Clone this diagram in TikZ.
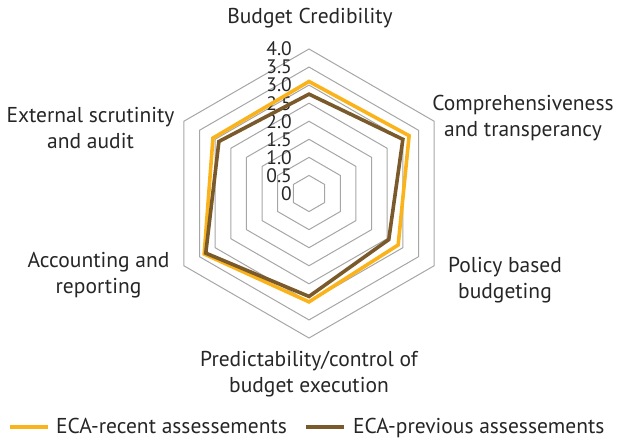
\documentclass[tikz,border=0pt]{standalone}
\usepackage{fontspec}
\setmainfont{PT Sans}
\definecolor{recentgold}{HTML}{FBB31B}
\definecolor{previousbrown}{HTML}{7A5A2A}
\definecolor{gridgray}{HTML}{A6A6A6}
\definecolor{labeltext}{HTML}{262626}

\begin{document}
\begin{tikzpicture}[x=1pt,y=1pt,
  ring/.style={draw=gridgray,line width=1pt},
  recent/.style={draw=recentgold,line width=3.6pt},
  previous/.style={draw=previousbrown,line width=3.6pt},
  axislabel/.style={align=center,text=labeltext,inner sep=0pt,font=\fontsize{21.5}{26}\selectfont},
  ticklabel/.style={anchor=east,text=labeltext,inner sep=0pt,font=\fontsize{19.5}{19.5}\selectfont},
  legendtext/.style={anchor=base west,text=labeltext,inner sep=0pt,font=\fontsize{21.5}{24}\selectfont}]

\useasboundingbox (0,0) rectangle (618,441);

%GRID
\begin{scope}[shift={(309,247.5)},x=36.125pt,y=36.125pt]
\draw[ring] (90:0.5) -- (30:0.5) -- (-30:0.5) -- (-90:0.5) -- (210:0.5) -- (150:0.5) -- cycle;
\draw[ring] (90:1.0) -- (30:1.0) -- (-30:1.0) -- (-90:1.0) -- (210:1.0) -- (150:1.0) -- cycle;
\draw[ring] (90:1.5) -- (30:1.5) -- (-30:1.5) -- (-90:1.5) -- (210:1.5) -- (150:1.5) -- cycle;
\draw[ring] (90:2.0) -- (30:2.0) -- (-30:2.0) -- (-90:2.0) -- (210:2.0) -- (150:2.0) -- cycle;
\draw[ring] (90:2.5) -- (30:2.5) -- (-30:2.5) -- (-90:2.5) -- (210:2.5) -- (150:2.5) -- cycle;
\draw[ring] (90:3.0) -- (30:3.0) -- (-30:3.0) -- (-90:3.0) -- (210:3.0) -- (150:3.0) -- cycle;
\draw[ring] (90:3.5) -- (30:3.5) -- (-30:3.5) -- (-90:3.5) -- (210:3.5) -- (150:3.5) -- cycle;
\draw[ring] (90:4.0) -- (30:4.0) -- (-30:4.0) -- (-90:4.0) -- (210:4.0) -- (150:4.0) -- cycle;

%TICKS
\node[ticklabel](t40) at (-0.47,4.0) {4.0};
\node[ticklabel](t35) at (-0.47,3.5) {3.5};
\node[ticklabel](t30) at (-0.47,3.0) {3.0};
\node[ticklabel](t25) at (-0.47,2.5) {2.5};
\node[ticklabel](t20) at (-0.47,2.0) {2.0};
\node[ticklabel](t15) at (-0.47,1.5) {1.5};
\node[ticklabel](t10) at (-0.47,1.0) {1.0};
\node[ticklabel](t05) at (-0.47,0.5) {0.5};
\node[ticklabel](t00) at (-0.47,0.0) {0};

%RECENT
\coordinate (r1) at (90:3.1);
\coordinate (r2) at (30:3.2);
\coordinate (r3) at (-30:2.85);
\coordinate (r4) at (-90:3.0);
\coordinate (r5) at (210:3.35);
\coordinate (r6) at (150:3.07);

%PREVIOUS
\coordinate (p1) at (90:2.75);
\coordinate (p2) at (30:3.0);
\coordinate (p3) at (-30:2.55);
\coordinate (p4) at (-90:2.85);
\coordinate (p5) at (210:3.3);
\coordinate (p6) at (150:2.88);

\draw[recent] (r1) -- (r2) -- (r3) -- (r4) -- (r5) -- (r6) -- cycle;
\draw[previous] (p1) -- (p2) -- (p3) -- (p4) -- (p5) -- (p6) -- cycle;
\end{scope}

\node[axislabel](a1) at (310,423) {Budget Credibility};
\node[axislabel](a2) at (523,323) {Comprehensiveness\\and transperancy};
\node[axislabel](a3) at (505,160.5) {Policy based\\budgeting};
\node[axislabel](a4) at (309,66.5) {Predictability/control of\\budget execution};
\node[axislabel](a5) at (98.5,166) {Accounting and\\reporting};
\node[axislabel](a6) at (90.5,312.5) {External scrutinity\\and audit};

%LEGEND
\coordinate (la) at (10,14);
\coordinate (lb) at (48,14);
\coordinate (lc) at (306,14);
\coordinate (ld) at (344,14);

\draw[recent] (la) -- (lb);
\node[legendtext](l1) at (56,7.5) {ECA-recent assessements};
\draw[previous] (lc) -- (ld);
\node[legendtext](l2) at (353,7.5) {ECA-previous assessements};

\end{tikzpicture}
\end{document}
